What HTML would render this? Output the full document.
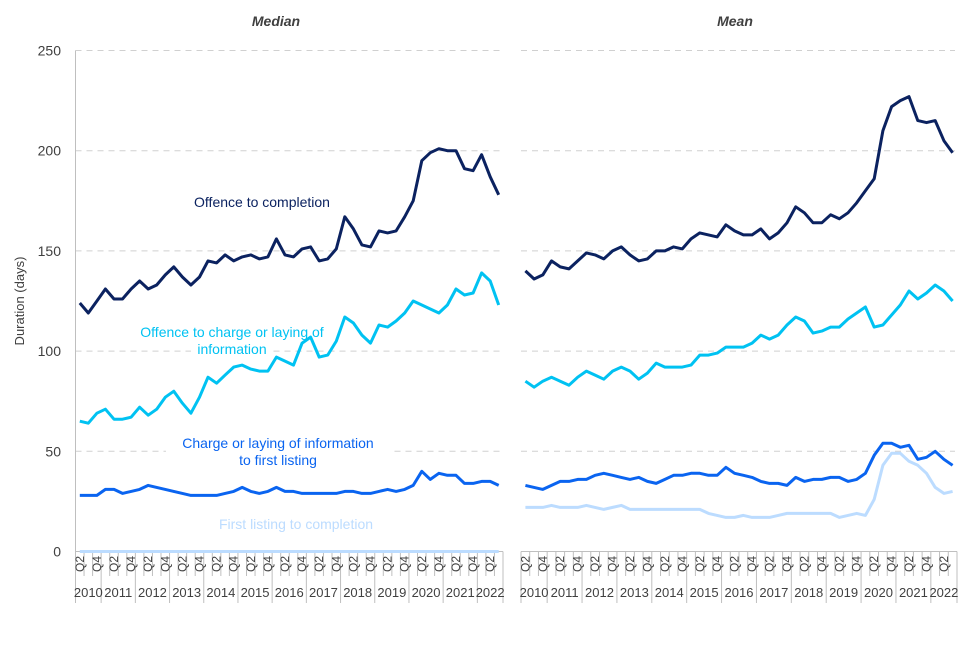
<!DOCTYPE html>
<html><head><meta charset="utf-8"><style>
body{margin:0;background:#fff;}
svg text{font-family:"Liberation Sans",Arial,sans-serif;}
</style></head><body>
<svg id="chart" width="960" height="640" viewBox="0 0 960 640" xmlns="http://www.w3.org/2000/svg"></svg>
<script>
const yTicks = [0, 50, 100, 150, 200, 250];
const years = ["2010","2011","2012","2013","2014","2015","2016","2017","2018","2019","2020","2021","2022"];
const medianOffenceCompletion = [124,119,125,131,126,126,131,135,131,133,138,142,137,133,137,145,144,148,145,147,148,146,147,156,148,147,151,152,145,146,151,167,161,153,152,160,159,160,167,175,195,199,201,200,200,191,190,198,187,178];
const medianOffenceCharge = [65,64,69,71,66,66,67,72,68,71,77,80,74,69,77,87,84,88,92,93,91,90,90,97,95,93,104,107,97,98,105,117,114,108,104,113,112,115,119,125,123,121,119,123,131,128,129,139,135,123];
const medianChargeListing = [28,28,28,31,31,29,30,31,33,32,31,30,29,28,28,28,28,29,30,32,30,29,30,32,30,30,29,29,29,29,29,30,30,29,29,30,31,30,31,33,40,36,39,38,38,34,34,35,35,33];
const medianListingCompletion = [0,0,0,0,0,0,0,0,0,0,0,0,0,0,0,0,0,0,0,0,0,0,0,0,0,0,0,0,0,0,0,0,0,0,0,0,0,0,0,0,0,0,0,0,0,0,0,0,0,0];
const meanOffenceCompletion = [140,136,138,145,142,141,145,149,148,146,150,152,148,145,146,150,150,152,151,156,159,158,157,163,160,158,158,161,156,159,164,172,169,164,164,168,166,169,174,180,186,210,222,225,227,215,214,215,205,199];
const meanOffenceCharge = [85,82,85,87,85,83,87,90,88,86,90,92,90,86,89,94,92,92,92,93,98,98,99,102,102,102,104,108,106,108,113,117,115,109,110,112,112,116,119,122,112,113,118,123,130,126,129,133,130,125];
const meanChargeListing = [33,32,31,33,35,35,36,36,38,39,38,37,36,37,35,34,36,38,38,39,39,38,38,42,39,38,37,35,34,34,33,37,35,36,36,37,37,35,36,39,48,54,54,52,53,46,47,50,46,43];
const meanListingCompletion = [22,22,22,23,22,22,22,23,22,21,22,23,21,21,21,21,21,21,21,21,21,19,18,17,17,18,17,17,17,18,19,19,19,19,19,19,17,18,19,18,26,43,49,49,45,43,39,32,29,30];

const svg = document.getElementById('chart');
const NS = 'http://www.w3.org/2000/svg';
function mk(tag, attrs, parent){const e=document.createElementNS(NS,tag);for(const k in attrs)e.setAttribute(k,attrs[k]);(parent||svg).appendChild(e);return e;}
const gridLayer=mk('g',{});


const labelLayer=mk('g',{});


const seriesLayer=mk('g',{});


const Y0=551.5, Y1=50.5;
function yS(v){return Y0-(v/250)*(Y0-Y1);}
const N=50;
const panels=[{x0:75.5,x1:503,title:"Median",tx:276,series:[medianOffenceCompletion,medianOffenceCharge,medianChargeListing,medianListingCompletion]},
              {x0:521,x1:957,title:"Mean",tx:735,series:[meanOffenceCompletion,meanOffenceCharge,meanChargeListing,meanListingCompletion]}];
const colors=["#0b2260","#00c2f2","#0a64f0","#bcdcff"];
const names=["offence-to-completion","offence-to-charge","charge-to-first-listing","first-listing-to-completion"];

yTicks.forEach(t=>{
  const tl=mk('text',{x:61,y:yS(t)+5,'text-anchor':'end','font-size':14,fill:'#404040'},gridLayer);
  
  
  tl.textContent=t;
});
const yt=mk('text',{x:0,y:0,transform:'translate(24,301) rotate(-90)','text-anchor':'middle','font-size':13,fill:'#404040'},gridLayer);


yt.textContent='Duration (days)';

panels.forEach((p,pi)=>{
  const g=mk('g',{},gridLayer);
  
  
  const step=(p.x1-p.x0)/N;
  const xS=i=>p.x0+step*(i+0.5);
  yTicks.slice(1).forEach(t=>{
    const gl=mk('line',{x1:p.x0,x2:p.x1-2,y1:yS(t),y2:yS(t),stroke:'#d0d0d0','stroke-width':1,'stroke-dasharray':'6,5'},g);
    
    
  });
  if(pi===0){const ax=mk('line',{x1:75.5,x2:75.5,y1:Y1,y2:Y0,stroke:'#bfbfbf'},g);}
  const tt=mk('text',{x:p.tx,y:26,'text-anchor':'middle','font-size':14,'font-weight':'bold','font-style':'italic',fill:'#404040'},g);
  
  
  tt.textContent=p.title;
  const xa=mk('line',{x1:p.x0,x2:p.x1,y1:Y0,y2:Y0,stroke:'#bfbfbf'},g);
  
  
  for(let i=0;i<=N;i++){
    const x=p.x0+step*i;
    const isYear=(i===0||i===N||((i+1)%4===0));
    mk('line',{x1:x,x2:x,y1:Y0,y2:isYear?603:576,stroke:'#bfbfbf'},g);
  }
  for(let i=0;i<N;i++){
    const qn=((i+1)%4)+1;
    if(qn===2||qn===4){
      const t=mk('text',{x:0,y:0,transform:`translate(${xS(i)+4},${572}) rotate(-90)`,'font-size':12,fill:'#404040'},g);
      
      
      t.textContent='Q'+qn;
    }
  }
  years.forEach((yr,k)=>{
    const s= k===0?0:3+(k-1)*4; const e= k===0?3:Math.min(s+4,N);
    const t=mk('text',{x:(p.x0+step*s+p.x0+step*e)/2,y:597,'text-anchor':'middle','font-size':13,fill:'#404040'},g);
    
    
    t.textContent=yr;
  });
  for(let si=3;si>=0;si--){
    const d=p.series[si].map((v,i)=>(i?'L':'M')+xS(i).toFixed(1)+','+yS(v).toFixed(1)).join(' ');
    const pl=mk('path',{d:d,fill:'none',stroke:colors[si],'stroke-width':3,'stroke-linejoin':'round'},seriesLayer);
    
    
  }
});

const labels=[
  {lines:["Offence to completion"],x:262,y:207,c:colors[0],n:'offence-to-completion-label'},
  {lines:["Offence to charge or laying of","information"],x:232,y:337,c:colors[1],n:'offence-to-charge-label'},
  {lines:["Charge or laying of information","to first listing"],x:278,y:448,c:colors[2],n:'charge-to-first-listing-label'},
  {lines:["First listing to completion"],x:296,y:529,c:colors[3],n:'first-listing-to-completion-label'}];
labels.forEach(l=>{
  l.lines.forEach((s,k)=>{
    const w=s.length*7.1;
    mk('rect',{x:l.x-w/2-2,y:l.y+k*17-13,width:w+4,height:17,fill:'#fff'},labelLayer);
  });
  const t=mk('text',{x:l.x,y:l.y,'text-anchor':'middle','font-size':14,fill:l.c},labelLayer);
  
  
  l.lines.forEach((s,k)=>{const ts=mk('tspan',{x:l.x,dy:k?17:0},t);ts.textContent=s;});
});
</script>
</body></html>
